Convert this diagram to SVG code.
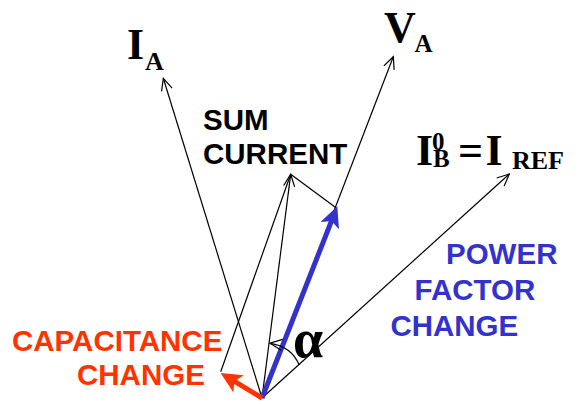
<svg xmlns="http://www.w3.org/2000/svg" width="580" height="404" viewBox="0 0 580 404">
<style>
.thin{stroke:#000;stroke-width:1.2;fill:none}
.lbl{font-family:"Liberation Sans",Arial,sans-serif;font-weight:bold;font-size:29.5px}
.ser{font-family:"Liberation Serif","Times New Roman",serif;font-weight:bold}
.blue{fill:#3333CC}
.red{fill:#FF3300}
</style>
<defs>
<marker id="open" markerUnits="userSpaceOnUse" markerWidth="16" markerHeight="14" refX="13" refY="7" orient="auto">
<path d="M1,1.5 L13,7 L1,12.5" fill="none" stroke="#000" stroke-width="1.2"/>
</marker>
<marker id="bluehead" markerUnits="userSpaceOnUse" markerWidth="24" markerHeight="22" refX="10" refY="10" orient="auto">
<path d="M0,0 L21,10 L0,20 L5,10 z" fill="#3333CC"/>
</marker>
<marker id="redhead" markerUnits="userSpaceOnUse" markerWidth="24" markerHeight="22" refX="10" refY="10" orient="auto">
<path d="M0,0 L21,10 L0,20 L5,10 z" fill="#FF3300"/>
</marker>
</defs>
<rect width="580" height="404" fill="#fff"/>
<g id="connectors">
<line class="thin" x1="262" y1="398" x2="163.3" y2="78.3" marker-end="url(#open)"/>
<line class="thin" x1="262" y1="398" x2="393.3" y2="56.7" marker-end="url(#open)"/>
<line class="thin" x1="262" y1="398" x2="509.3" y2="174" marker-end="url(#open)"/>
<line class="thin" x1="262" y1="398" x2="290.7" y2="174.3" marker-end="url(#open)"/>
<line class="thin" x1="220.7" y1="371.7" x2="290.7" y2="174.3"/>
<line class="thin" x1="290.7" y1="174.3" x2="336" y2="207.7"/>
<line x1="262" y1="398" x2="333.3" y2="216.4" stroke="#3333CC" stroke-width="5" marker-end="url(#bluehead)"/>
<line x1="262" y1="398" x2="230" y2="378.7" stroke="#FF3300" stroke-width="5" marker-end="url(#redhead)"/>
<path class="thin" d="M299.3,365 Q291,346 270,343.3" marker-end="url(#open)"/>
</g>
<g id="node-IA">
<text class="ser" x="127" y="58.5" font-size="44">I</text>
<text class="ser" x="145" y="69.5" font-size="26">A</text>
</g>
<g id="node-VA">
<text class="ser" x="384" y="42" font-size="44">V</text>
<text class="ser" x="414.5" y="52" font-size="25">A</text>
</g>
<g id="node-IREF">
<text class="ser" x="416" y="165" font-size="44">I</text>
<text class="ser" x="432" y="149.5" font-size="25">0</text>
<text class="ser" x="433" y="167" font-size="25">B</text>
<text class="ser" x="458" y="165" font-size="44">=</text>
<text class="ser" x="485.5" y="165" font-size="44">I</text>
<text class="ser" x="512" y="169" font-size="26">REF</text>
</g>
<g id="node-sum">
<text class="lbl" x="203" y="130">SUM</text>
<text class="lbl" x="203" y="163.5">CURRENT</text>
</g>
<g id="node-pf">
<text class="lbl blue" x="446" y="263.5">POWER</text>
<text class="lbl blue" x="414.5" y="300">FACTOR</text>
<text class="lbl blue" x="390.4" y="336">CHANGE</text>
</g>
<g id="node-cap">
<text class="lbl red" x="12" y="351">CAPACITANCE</text>
<text class="lbl red" x="77" y="385">CHANGE</text>
</g>
<g id="node-alpha">
<text class="ser" x="293" y="357" font-size="54">α</text>
</g>
</svg>
